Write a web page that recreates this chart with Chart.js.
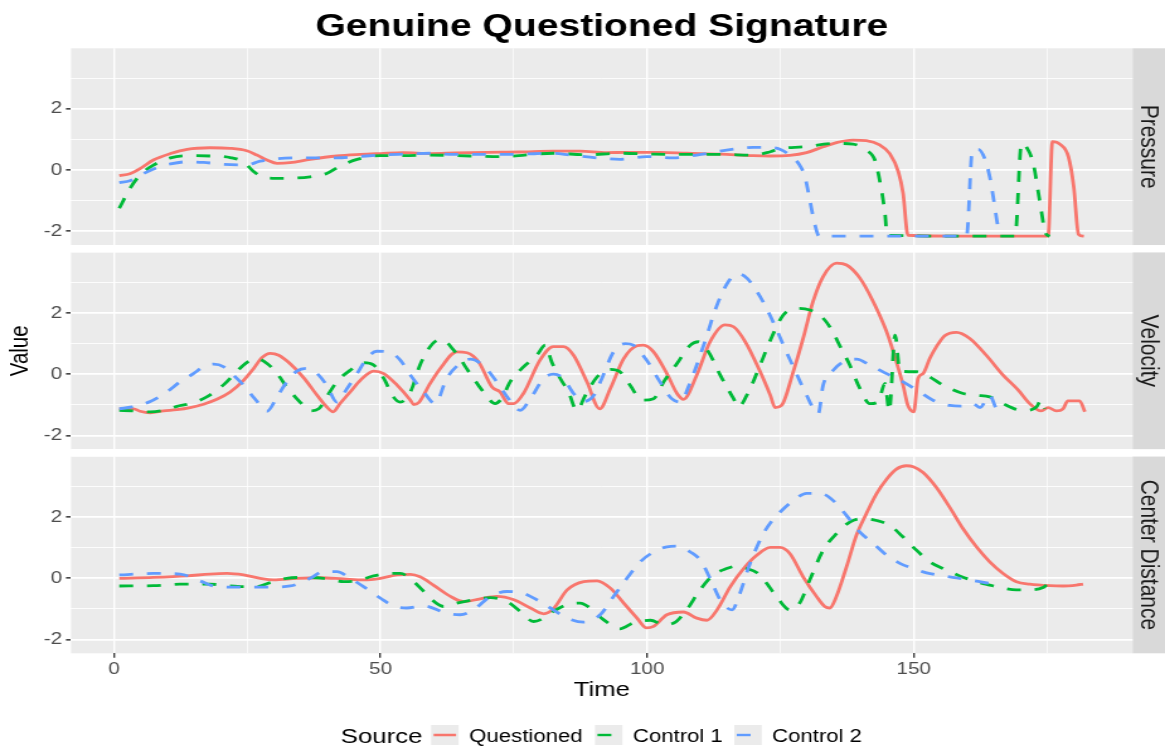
<!DOCTYPE html>
<html>
<head>
<meta charset="utf-8">
<script src="https://cdn.jsdelivr.net/npm/chart.js@4.4.1/dist/chart.umd.min.js"></script>
<style>
html,body{margin:0;padding:0;background:#ffffff;overflow:hidden}
#c{display:block}
</style>
</head>
<body>
<canvas id="c" width="925" height="746" style="display:block;width:1165px;height:746px"></canvas>
<script>
// ---------------- data ----------------
const chartTitle = 'Genuine Questioned Signature';
const sources = ['Questioned', 'Control 1', 'Control 2'];
const facets = ['Pressure', 'Velocity', 'Center Distance'];
const timeTicks = [0, 25, 50, 75, 100, 125, 150, 175];
const valueTicks = [-2, -1, 0, 1, 2, 3];

const pressureQuestionedT = [1,3,4.9,7.4,10.6,13.7,18,21.8,24.9,26.8,28.7,30.6,33,36.8,41.8,46.2,50,54.3,59.3,64,70,76,82.4,87.4,92.4,96.2,102.4,107.4,113.7,119.9,123,126.75,129.9,133,135.5,138.6,141.1,143.6,145.5,147.1,148,148.9,160,175.2,176,177.4,179,180,180.9,181.9];
const pressureQuestionedV = [-0.18,-0.12,0.05,0.33,0.54,0.68,0.73,0.71,0.63,0.49,0.33,0.22,0.24,0.35,0.46,0.51,0.54,0.57,0.54,0.56,0.58,0.59,0.62,0.62,0.57,0.58,0.58,0.55,0.52,0.47,0.46,0.48,0.57,0.76,0.9,0.98,0.96,0.82,0.54,-0.05,-0.76,-2.13,-2.16,-2.16,0.93,0.85,0.44,-0.54,-2.1,-2.16];
const pressureControl1T = [1,3,4.9,7.4,10.6,13.7,18,21.8,24.3,26.2,28.1,31.8,36.8,39.9,42.4,45.6,50,54.3,59.3,66.8,72.4,82.4,88.7,94.9,101.2,107.4,113.7,119.9,123.1,125,129.25,135.5,138.6,141.1,142.7,143.6,144.6,145,160,169,170.2,171.1,172.4,173.6,174.75,175.5];
const pressureControl1V = [-1.25,-0.6,-0.16,0.16,0.4,0.47,0.46,0.41,0.27,-0.05,-0.24,-0.27,-0.22,-0.11,0.13,0.35,0.47,0.47,0.49,0.46,0.44,0.55,0.5,0.55,0.52,0.51,0.51,0.49,0.6,0.7,0.76,0.87,0.85,0.65,0.33,-0.33,-1.42,-2.13,-2.16,-2.16,0.87,0.76,0.22,-0.98,-2.07,-2.16];
const pressureControl2T = [1,3,5.6,8.1,10.6,13.7,16.8,20.6,24.9,27.4,30.6,35.6,41.8,45.6,50,54.3,59.3,63.7,70,76.2,82.4,85.6,90.6,94.9,99.9,104.9,109.3,114.9,119.9,122.4,124.9,126.75,128.6,129.6,130.5,131.4,132.25,145,159.9,161,162.1,163.3,164.25,165,165.8,166.4];
const pressureControl2V = [-0.41,-0.35,-0.11,0.08,0.2,0.27,0.25,0.19,0.17,0.29,0.37,0.4,0.4,0.44,0.49,0.52,0.55,0.51,0.51,0.52,0.55,0.49,0.4,0.35,0.44,0.4,0.49,0.65,0.74,0.74,0.68,0.49,0.16,-0.22,-0.98,-1.74,-2.16,-2.16,-2.16,0.65,0.68,0.38,-0.22,-0.98,-1.85,-2.1];

const velocityQuestionedT = [1,3.7,4.9,6.8,9.3,11.8,14.3,16.8,19.3,21.8,24.3,26.2,27.75,29.3,30.9,33,35.6,38.1,39.9,41.1,42.4,44.3,46.2,48.7,50.6,53.1,55.6,56.2,57.1,59.3,61.2,64.3,66.2,68.4,70.9,72.4,74,75,76.8,79.9,82.4,84.3,86.2,88.7,91.1,93.1,95.6,98.1,99.3,101.2,103.7,105.6,106.8,109.3,111.8,114.6,116.2,118.4,121.2,123.1,124,125.2,127.4,129.25,131.1,133,135.5,137.4,139.9,142.4,144.9,146.75,148,148.9,150,150.8,151.75,153,154.25,155.8,158,160.5,163.6,166.75,169.6,171.75,173.9,175.2,176.75,178,178.9,181.1,182.1];
const velocityQuestionedV = [-1.13,-1.13,-1.21,-1.26,-1.2,-1.16,-1.09,-0.98,-0.82,-0.58,-0.2,0.19,0.54,0.68,0.62,0.35,-0.12,-0.69,-1.07,-1.23,-0.96,-0.58,-0.2,0.1,0.02,-0.36,-0.85,-0.99,-0.94,-0.3,0.19,0.73,0.7,0.4,-0.42,-0.58,-0.96,-0.96,-0.63,0.46,0.9,0.9,0.62,-0.25,-1.13,-0.47,0.51,0.93,0.95,0.73,0.02,-0.63,-0.82,-0.03,1.06,1.61,1.55,1.06,0.08,-0.69,-1.09,-1.02,0.08,1.17,2.37,3.19,3.63,3.57,3.14,2.37,1.39,0.4,-0.36,-1.02,-1.23,-0.14,0.02,0.51,0.9,1.26,1.37,1.17,0.62,-0.03,-0.52,-0.96,-1.2,-1.09,-1.2,-1.13,-0.87,-0.87,-1.23];
const velocityControl1T = [1,3.4,6.8,9.3,11.8,14.3,17.4,20.6,23.1,24.9,26.8,28.7,30.6,32.4,34.9,36.8,38.4,39.9,41.8,44.3,46.8,48.7,50.6,52.4,53.7,55.6,57.4,59.3,60.6,61.5,63.7,66.8,69.3,71.5,72.75,74.3,76.8,79.3,80.9,82.1,83.7,85.25,86.8,88.4,90.6,93.1,94.9,96.8,99,101.2,103.1,105.6,108.1,109.6,111.5,113.7,116.2,117.1,119,121.2,123.1,125.5,128,130.5,132.4,134.25,136.4,138,139.9,141.75,143.3,144.6,145.4,146.5,147.4,150.5,152.4,155.5,159.25,161.75,164.25,166.75,169.25,171.1,173,173.9,174.6];
const velocityControl1V = [-1.18,-1.2,-1.23,-1.18,-1.05,-0.96,-0.74,-0.34,0.1,0.38,0.51,0.35,0.02,-0.42,-0.91,-1.2,-1.13,-0.74,-0.25,0.13,0.38,0.3,-0.14,-0.74,-0.91,-0.58,0.3,0.9,1.11,1.13,0.79,0.02,-0.58,-0.96,-0.78,-0.25,0.24,0.62,0.95,0.4,-0.14,-0.58,-1.18,-0.69,-0.09,0.16,0.08,-0.36,-0.85,-0.8,-0.25,0.35,0.95,1.06,0.73,-0.03,-0.8,-1.07,-0.58,0.3,1.11,1.93,2.15,2.1,1.93,1.55,0.84,0.3,-0.47,-0.96,-0.91,-0.3,-1.2,1.28,0.1,0.08,-0.03,-0.36,-0.63,-0.69,-0.74,-0.96,-1.15,-1.18,-1.07,-0.85,-1.13];
const velocityControl2T = [1,3.4,6.8,9.9,12.4,14.9,16.8,18.7,20.6,22.4,24.3,26.5,28.7,30.6,32.4,34.3,36.2,38.1,39.9,41.8,43.7,45.6,47.4,49.3,51.8,53.7,55.6,58.1,60.25,62.4,64.9,66.8,69.3,71.8,74,76.2,78.1,80.6,82.4,84.3,86.2,88.1,90,91.5,93.7,95.9,97.4,99.9,102.4,104.6,106.2,108.1,110.6,113.1,115.25,117.1,118.7,120.6,122.4,124.3,126.1,128,129.9,132.1,133,134.9,136.75,139.25,141.75,144.9,148,151.1,153.6,156.75,159.25,161.1,162.4,164.25,165.5,166.3];
const velocityControl2V = [-1.13,-1.07,-0.89,-0.58,-0.25,0.02,0.24,0.33,0.24,-0.03,-0.36,-0.82,-1.21,-0.74,-0.25,0.1,0.19,0.02,-0.36,-0.91,-0.47,0.02,0.51,0.75,0.71,0.46,-0.03,-0.58,-0.96,-0.14,0.35,0.49,0.27,-0.25,-0.8,-1.18,-0.8,-0.14,0,-0.14,-0.63,-0.89,-0.69,-0.14,0.73,1.0,0.95,0.46,-0.25,-0.8,-0.91,-0.25,0.95,2.26,3.03,3.28,3.14,2.7,2.15,1.45,0.73,0.02,-0.69,-1.29,-0.36,0.13,0.4,0.49,0.3,0.02,-0.25,-0.58,-0.85,-1.02,-1.04,-0.96,-1.09,-0.69,-1.13,-1.2];

const centerQuestionedT = [1,7.4,13.7,18,21.2,24.3,27.4,29.9,34.3,38.7,43.1,46.8,50,53.1,55.6,57.4,59.9,63.1,65.6,68.7,71.8,75,78.1,80.6,82.4,85,88.1,90.6,93.1,95.6,98.1,99.9,101.2,103.7,106.8,109.3,111.2,113.1,115.6,118.1,120.6,123.1,124.9,126.75,129.25,131.75,133.3,134.25,135.5,137.4,139.25,141.1,143,144.9,146.75,148.6,149.9,151.75,154.25,156.75,159.25,161.75,164.25,166.75,169.25,171.75,175.5,178,180.5,181.75];
const centerQuestionedV = [0,0.03,0.08,0.14,0.16,0.11,0,-0.05,0,0.02,-0.02,-0.05,0,0.11,0.13,0.05,-0.22,-0.59,-0.76,-0.67,-0.59,-0.7,-0.97,-1.16,-1.0,-0.38,-0.11,-0.08,-0.32,-0.81,-1.3,-1.62,-1.57,-1.19,-1.1,-1.3,-1.37,-1.03,-0.27,0.32,0.76,1.01,1.01,0.81,0.05,-0.59,-0.92,-0.97,-0.59,0.38,1.41,2.11,2.76,3.24,3.57,3.68,3.65,3.46,2.97,2.32,1.62,1.03,0.54,0.16,-0.11,-0.19,-0.24,-0.25,-0.22,-0.19];
const centerControl1T = [1,7.4,12.4,18,21.2,24.3,26.8,29.3,32.4,35.6,39.3,43.1,45.6,48.7,51.8,53.7,56.2,58.1,59.3,61.8,64.3,67.4,70.6,73.7,76.2,78.7,80.6,82.4,85,87.4,89.3,91.8,94.9,97.4,100.6,103.1,105,107.4,109.9,112.4,114.9,116.8,118.7,120.6,122.4,124.6,126.75,128.6,130.5,133,135.5,138,140.5,143,145.5,148,150.5,153,155.5,158.6,161.75,164.25,166.75,169.25,171.75,174.25,174.9];
const centerControl1V = [-0.25,-0.24,-0.19,-0.19,-0.24,-0.27,-0.27,-0.14,0,0.03,0,-0.11,-0.08,0.08,0.16,0.16,-0.11,-0.43,-0.65,-0.92,-0.81,-0.7,-0.63,-0.76,-1.08,-1.41,-1.3,-1.08,-0.86,-0.81,-0.97,-1.35,-1.65,-1.46,-1.37,-1.51,-1.46,-1.03,-0.38,0.11,0.32,0.4,0.32,0.18,-0.16,-0.68,-1.03,-0.81,-0.05,0.92,1.46,1.84,1.95,1.89,1.73,1.35,0.92,0.54,0.32,0.08,-0.11,-0.22,-0.32,-0.38,-0.38,-0.3,-0.22];
const centerControl2T = [1,7.4,12.4,16.2,19.3,24.3,29.3,33.1,36.8,39.3,41.8,44.3,46.8,50,52.4,54.9,58.1,62.4,64.9,67.4,70.6,73.7,76.2,79.3,82.4,85,88.1,91.2,93.7,96.2,98.7,101.2,103.7,105.6,108.1,110,111.8,113.7,115.9,117.4,119.3,121.8,123.5,124.9,127.4,129.9,132.4,134.9,137.4,139.9,142.4,144.9,147.4,149.9,152.4,155.5,158.6,161.75,164.25,166.1];
const centerControl2V = [0.11,0.16,0.14,-0.09,-0.27,-0.29,-0.29,-0.25,0,0.22,0.22,0,-0.27,-0.65,-0.9,-0.97,-0.9,-1.14,-1.19,-1.03,-0.59,-0.43,-0.46,-0.7,-1.03,-1.3,-1.43,-1.19,-0.59,0,0.54,0.86,1.03,1.05,0.86,0.59,0,-0.7,-1.03,-0.49,0.49,1.46,1.9,2.16,2.54,2.78,2.78,2.54,2.05,1.51,1.14,0.76,0.49,0.32,0.18,0.08,0,-0.09,-0.16,-0.16];

// ---------------- styling / layout ----------------
const FONT = '"Liberation Sans", Arial, Helvetica, sans-serif';
const seriesColors = ['#F8766D', '#00BA38', '#619CFF'];
const seriesDash = [[], [11, 11], [11, 11]];
const panelAxisIds = ['yP', 'yV', 'yC'];
const gapAxisIds = ['g1', 'g2'];
const AXIS_W = 56.4;

const panelSeries = [
  [[pressureQuestionedT, pressureQuestionedV], [pressureControl1T, pressureControl1V], [pressureControl2T, pressureControl2V]],
  [[velocityQuestionedT, velocityQuestionedV], [velocityControl1T, velocityControl1V], [velocityControl2T, velocityControl2V]],
  [[centerQuestionedT, centerQuestionedV], [centerControl1T, centerControl1V], [centerControl2T, centerControl2V]]
];

const datasets = [];
panelSeries.forEach((group, p) => group.forEach(([ts, vs], s) => {
  datasets.push({
    label: sources[s],
    data: ts.map((t, i) => ({x: t, y: vs[i]})),
    xAxisID: 'x',
    yAxisID: panelAxisIds[p],
    borderColor: seriesColors[s],
    backgroundColor: seriesColors[s],
    borderWidth: 2.8,
    borderDash: seriesDash[s],
    borderJoinStyle: 'round',
    borderCapStyle: 'butt',
    pointRadius: 0,
    pointHoverRadius: 0,
    fill: false,
    cubicInterpolationMode: 'monotone',
    order: 3 - s
  });
}));

const isMajorY = ctx => ctx && ctx.tick && Math.abs(ctx.tick.value % 2) < 1e-9;
const isMajorX = ctx => ctx && ctx.tick && Math.abs(ctx.tick.value % 50) < 1e-9;

function panelAxis(weight, showTitle) {
  return {
    type: 'linear', position: 'left', stack: 'panels', stackWeight: 197, weight: weight,
    min: -2.45, max: 3.98,
    afterBuildTicks: s => { s.ticks = valueTicks.map(v => ({value: v})); },
    afterFit: s => { s.width = AXIS_W; },
    ticks: {
      autoSkip: false, padding: 3, color: '#4D4D4D',
      font: {family: FONT, size: 16.4},
      callback: v => (Math.abs(v % 2) < 1e-9 ? String(v) : '')
    },
    grid: {
      color: '#FFFFFF',
      lineWidth: ctx => (isMajorY(ctx) ? 1.7 : 0.85),
      tickLength: 4,
      tickColor: ctx => (isMajorY(ctx) ? '#333333' : 'rgba(0,0,0,0)'),
      tickWidth: 1.5
    },
    border: {display: false},
    title: {
      display: showTitle, text: 'Value', color: '#000000',
      font: {family: FONT, size: 20.5}, padding: {top: 4.2, bottom: 0}
    }
  };
}
function gapAxis(weight) {
  return {
    type: 'linear', position: 'left', stack: 'panels', stackWeight: 7.4, weight: weight,
    min: 0, max: 1,
    afterFit: s => { s.width = AXIS_W; },
    ticks: {display: false}, grid: {display: false}, border: {display: false}
  };
}

const facetPlugin = {
  id: 'facetDecor',
  beforeDraw(chart) {
    const ctx = chart.ctx, ca = chart.chartArea, W = chart.width;
    ctx.save();
    ctx.fillStyle = '#FFFFFF';
    ctx.fillRect(0, 0, W, chart.height);
    panelAxisIds.forEach((id, i) => {
      const s = chart.scales[id];
      ctx.fillStyle = '#EBEBEB';
      ctx.fillRect(ca.left, s.top, ca.right - ca.left, s.bottom - s.top);
      ctx.fillStyle = '#D9D9D9';
      ctx.fillRect(ca.right, s.top, W - ca.right, s.bottom - s.top);
      ctx.save();
      ctx.translate(ca.right + (W - ca.right) / 2, (s.top + s.bottom) / 2);
      ctx.rotate(Math.PI / 2);
      ctx.fillStyle = '#1A1A1A';
      ctx.font = '21px ' + FONT;
      ctx.textAlign = 'center';
      ctx.textBaseline = 'middle';
      ctx.fillText(facets[i], 0, 0);
      ctx.restore();
    });
    // title
    ctx.fillStyle = '#000000';
    ctx.font = 'bold 31px ' + FONT;
    ctx.textAlign = 'center';
    ctx.textBaseline = 'alphabetic';
    ctx.fillText(chartTitle, (ca.left + ca.right) / 2, 36);
    // legend
    const keyMid = 735;
    const textMid = 737.3;
    ctx.textAlign = 'left';
    ctx.textBaseline = 'middle';
    ctx.font = '20.5px ' + FONT;
    ctx.fillText('Source', 270.5, textMid);
    const keyX = [342.3, 472.4, 583.0];
    const keyW = 21.8;
    const labX = [372.6, 502.5, 613.0];
    sources.forEach((name, i) => {
      ctx.fillStyle = '#EBEBEB';
      ctx.fillRect(keyX[i], keyMid - 10, keyW, 20);
      ctx.save();
      ctx.beginPath();
      ctx.rect(keyX[i], keyMid - 10, keyW, 20);
      ctx.clip();
      ctx.strokeStyle = seriesColors[i];
      ctx.lineWidth = 2.4;
      ctx.lineCap = 'butt';
      ctx.setLineDash(seriesDash[i]);
      ctx.beginPath();
      ctx.moveTo(keyX[i] + 2, keyMid);
      ctx.lineTo(keyX[i] + 19.8, keyMid);
      ctx.stroke();
      ctx.restore();
      ctx.fillStyle = '#000000';
      ctx.font = '17.6px ' + FONT;
      ctx.fillText(name, labX[i], textMid);
    });
    ctx.restore();
  },
  beforeDatasetsDraw(chart) {
    const ctx = chart.ctx, ca = chart.chartArea;
    ctx.save();
    ctx.fillStyle = '#FFFFFF';
    gapAxisIds.forEach(id => {
      const s = chart.scales[id];
      ctx.fillRect(ca.left, s.top, ca.right - ca.left, s.bottom - s.top);
    });
    ctx.restore();
  }
};

Chart.defaults.font.family = FONT;

const canvasEl = document.getElementById('c');
new Chart(canvasEl, {
  type: 'line',
  data: {datasets: datasets},
  plugins: [facetPlugin],
  options: {
    responsive: false,
    maintainAspectRatio: false,
    animation: false,
    devicePixelRatio: 1,
    events: [],
    layout: {padding: {top: 48.3, right: 25.7, bottom: 42.7, left: 0}},
    plugins: {legend: {display: false}, title: {display: false}, tooltip: {enabled: false}},
    scales: {
      x: {
        type: 'linear', position: 'bottom', min: -8.05, max: 191.05,
        afterBuildTicks: s => { s.ticks = timeTicks.map(v => ({value: v})); },
        afterFit: s => { s.height = 50; },
        ticks: {
          autoSkip: false, maxRotation: 0, minRotation: 0, padding: 2, color: '#4D4D4D',
          font: {family: FONT, size: 16.4},
          callback: v => (Math.abs(v % 50) < 1e-9 ? String(v) : '')
        },
        grid: {
          color: '#FFFFFF',
          lineWidth: ctx => (isMajorX(ctx) ? 1.4 : 0.7),
          tickLength: 4.5,
          tickColor: ctx => (isMajorX(ctx) ? '#333333' : 'rgba(0,0,0,0)'),
          tickWidth: 1.3
        },
        border: {display: false},
        title: {
          display: true, text: 'Time', color: '#000000',
          font: {family: FONT, size: 20.5}, padding: {top: 0, bottom: 0.5}
        }
      },
      yP: panelAxis(5, false),
      g1: gapAxis(4),
      yV: panelAxis(3, true),
      g2: gapAxis(2),
      yC: panelAxis(1, false)
    }
  }
});
// stretch the drawing horizontally to the page width, as in the reference picture
canvasEl.style.width = '1165px';
canvasEl.style.height = '746px';
</script>
</body>
</html>
